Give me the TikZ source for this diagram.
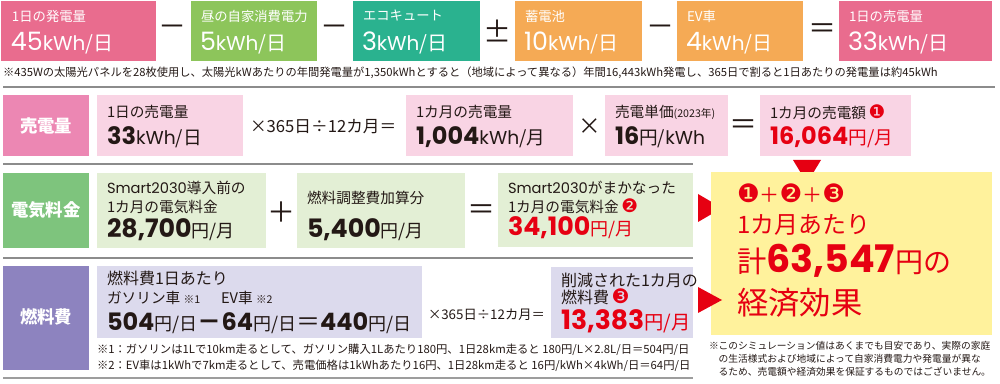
\documentclass[tikz,border=0pt]{standalone}
\usepackage{fontspec}
\setmainfont{Noto Sans CJK JP}
\newfontfamily\numfont{Poppins}
\newfontfamily\symfont{DejaVu Sans}
\definecolor{pinkA}{HTML}{E96C8E}
\definecolor{greenA}{HTML}{8DC55B}
\definecolor{tealA}{HTML}{2AB28F}
\definecolor{orangeA}{HTML}{F5AA55}
\definecolor{pinkL}{HTML}{EC87B3}
\definecolor{pinkP}{HTML}{F9D4E4}
\definecolor{greenL}{HTML}{7EC47D}
\definecolor{greenP}{HTML}{E3EFD5}
\definecolor{purpleL}{HTML}{8D83BF}
\definecolor{purpleP}{HTML}{DCDAED}
\definecolor{yellowP}{HTML}{FFF29C}
\definecolor{jpred}{HTML}{E60012}
\definecolor{ink}{HTML}{231815}
\definecolor{rulegray}{HTML}{8C8C8C}
\newcommand{\numbig}[2]{{\fontsize{#1pt}{#1pt}\selectfont\numfont\bfseries #2}}
\newcommand{\numreg}[2]{{\fontsize{#1pt}{#1pt}\selectfont\numfont #2}}
\newcommand{\unitsm}[2]{{\fontsize{#1pt}{#1pt}\selectfont #2}}
\newcommand{\kwh}{{\numfont kWh}}
\newcommand{\maru}[2]{{\fontsize{#1pt}{#1pt}\selectfont\symfont\textcolor{jpred}{#2}}}

\begin{document}
\begin{tikzpicture}[x=0.75pt, y=-0.75pt, inner sep=0pt, outer sep=0pt,
    wtitle/.style={anchor=west, text=white, font=\fontsize{10pt}{10pt}\selectfont},
    wval/.style={anchor=base west, text=white},
    title/.style={anchor=west, text=ink, align=left, font=\fontsize{11pt}{14.2pt}\selectfont},
    val/.style={anchor=base west, text=ink},
    rval/.style={anchor=base west, text=jpred},
    oper/.style={text=ink, font=\fontsize{21pt}{21pt}\selectfont},
    rowlabel/.style={text=white, font=\fontsize{13pt}{13pt}\selectfont\bfseries},
    calc/.style={anchor=west, text=ink, font=\fontsize{12.5pt}{12.5pt}\selectfont},
    note/.style={anchor=west, text=ink, align=left}]
\useasboundingbox (0,0) rectangle (1000,384);

% daily balance
\fill[pinkA] (1,1) rectangle (156,61);
\fill[greenA] (191,1) rectangle (317,61);
\fill[tealA] (353,1) rectangle (480,61);
\fill[orangeA] (515,1) rectangle (642,61);
\fill[orangeA] (677,1) rectangle (803,61);
\fill[pinkA] (839,1) rectangle (992,61);
\node[wtitle] (gen) at (12,16) {1日の発電量};
\node[wval] (genv) at (11,51) {\numreg{19}{45}\unitsm{15}{\kwh/日}};
\node[oper] (op1) at (172,31) {－};
\node[wtitle] (self) at (201,16) {昼の自家消費電力};
\node[wval] (selfv) at (200,51) {\numreg{19}{5}\unitsm{15}{\kwh/日}};
\node[oper] (op2) at (334,31) {－};
\node[wtitle] (eco) at (363,16) {エコキュート};
\node[wval] (ecov) at (362,51) {\numreg{19}{3}\unitsm{15}{\kwh/日}};
\node[oper] (op3) at (497,31) {±};
\node[wtitle] (bat) at (525,16) {蓄電池};
\node[wval] (batv) at (524,51) {\numreg{19}{10}\unitsm{15}{\kwh/日}};
\node[oper] (op4) at (660,31) {－};
\node[wtitle] (ev) at (687,16) {EV車};
\node[wval] (evv) at (686,51) {\numreg{19}{4}\unitsm{15}{\kwh/日}};
\node[oper] (op5) at (822,31) {＝};
\node[wtitle] (sell) at (849,16) {1日の売電量};
\node[wval] (sellv) at (848,51) {\numreg{19}{33}\unitsm{15}{\kwh/日}};
\node[note, font=\fontsize{8.45pt}{8.45pt}\selectfont] (note0) at (3,73)
  {※435Wの太陽光パネルを28枚使用し、太陽光kWあたりの年間発電量が1,350kWhとすると（地域によって異なる）年間16,443kWh発電し、365日で割ると1日あたりの発電量は約45kWh};

% rules
\draw[rulegray, line width=0.8pt] (3,87) -- (995,87);
\draw[rulegray, line width=0.8pt] (3,164) -- (693,164);
\draw[rulegray, line width=0.8pt] (3,258) -- (693,258);
\draw[rulegray!85, line width=2pt] (3,378) -- (693,378);

% sold power
\fill[pinkL] (3,95) rectangle (89,156);
\node[rowlabel] (lab1) at (46,126) {売電量};
\fill[pinkP] (97,95) rectangle (243,156);
\node[title] (day) at (107,112) {1日の売電量};
\node[val] (dayv) at (107,145) {\numbig{18}{33}\unitsm{14}{\kwh/日}};
\node[calc] (calc1) at (250,127) {×365日÷12カ月＝};
\fill[pinkP] (406,95) rectangle (573,156);
\node[title] (month) at (416,112) {1カ月の売電量};
\node[val] (monthv) at (416,145) {\numbig{18}{1,004}\unitsm{14}{\kwh/月}};
\node[oper, font=\fontsize{17pt}{17pt}\selectfont] (op6) at (590,127) {×};
\fill[pinkP] (605,95) rectangle (728,156);
\node[title] (price) at (615,112) {売電単価\unitsm{8}{(2023年)}};
\node[val] (pricev) at (615,145) {\numbig{18}{16}\unitsm{14}{円/\kwh}};
\node[oper] (op7) at (743,127) {＝};
\fill[pinkP] (760,95) rectangle (911,156);
\node[title] (sale) at (770,112) {1カ月の売電額\,\maru{14}{❶}};
\node[rval] (salev) at (770,145) {\numbig{18}{16,064}\unitsm{14}{円/月}};
\fill[jpred] (793,160) -- (821,160) -- (807,183) -- cycle;

% electricity bill
\fill[greenL] (3,173) rectangle (89,248);
\node[rowlabel] (lab2) at (46,210) {電気料金};
\fill[greenP] (97,173) rectangle (266,248);
\node[title] (before) at (107,197) {\numreg{11}{Smart2030}導入前の\\1カ月の電気料金};
\node[val] (beforev) at (107,238) {\numbig{19}{28,700}\unitsm{13.5}{円/月}};
\node[oper] (op8) at (281,212) {＋};
\fill[greenP] (297,173) rectangle (465,248);
\node[title] (fuel) at (307,198) {燃料調整費加算分};
\node[val] (fuelv) at (307,238) {\numbig{19}{5,400}\unitsm{13.5}{円/月}};
\node[oper] (op9) at (481,212) {＝};
\fill[greenP] (498,173) rectangle (693,247);
\node[title] (cover) at (508,197) {\numreg{11}{Smart2030}がまかなった\\1カ月の電気料金\,\maru{14}{❷}};
\node[rval] (coverv) at (508,236) {\numbig{19}{34,100}\unitsm{13.5}{円/月}};
\fill[jpred] (698,194) -- (722,208) -- (698,222) -- cycle;

% total
\fill[yellowP] (711,172) rectangle (992,335);
\node[anchor=west, text=jpred, font=\fontsize{15pt}{15pt}\selectfont] (sum)
  at (737,193) {\maru{19}{❶}＋\maru{19}{❷}＋\maru{19}{❸}};
\node[anchor=west, text=jpred, font=\fontsize{18pt}{18pt}\selectfont] (permonth)
  at (737,225) {1カ月あたり};
\node[anchor=base west, text=jpred] (total) at (737,273)
  {\unitsm{22}{計}\numbig{28.5}{63,547}\unitsm{21}{円の}};
\node[anchor=west, text=jpred, font=\fontsize{23.5pt}{23.5pt}\selectfont] (effect)
  at (737,303) {経済効果};

% fuel cost
\fill[purpleL] (3,266) rectangle (89,370);
\node[rowlabel] (lab3) at (46,317) {燃料費};
\fill[purpleP] (97,266) rectangle (422,338);
\node[title, font=\fontsize{12pt}{12pt}\selectfont] (perday) at (107,278) {燃料費1日あたり};
\node[title, font=\fontsize{11pt}{11pt}\selectfont] (gas) at (107,298) {ガソリン車 \unitsm{8}{※1}};
\node[title, font=\fontsize{11pt}{11pt}\selectfont] (evcar) at (221,298) {EV車 \unitsm{8}{※2}};
\node[val] (perdayv) at (107,331)
  {\numbig{18}{504}\unitsm{13.5}{円/日}\unitsm{18}{\bfseries －}\numbig{18}{64}\unitsm{13.5}{円/日}\unitsm{18}{＝}\numbig{18}{440}\unitsm{13.5}{円/日}};
\node[calc, font=\fontsize{10pt}{10pt}\selectfont] (calc2) at (428,315) {×365日÷12カ月＝};
\fill[purpleP] (551,267) rectangle (693,338);
\node[title, font=\fontsize{12pt}{13pt}\selectfont] (cut) at (561,289) {削減された1カ月の\\燃料費\,\maru{15}{❸}};
\node[rval] (cutv) at (561,330) {\numbig{20}{13,383}\unitsm{14.5}{円/月}};
\fill[jpred] (698,287) -- (722,300) -- (698,313) -- cycle;
\node[note, font=\fontsize{8.5pt}{12pt}\selectfont] (note12) at (97,358)
  {※1：ガソリンは1Lで10km走るとして、ガソリン購入1Lあたり180円、1日28km走ると 180円/L×2.8L/日＝504円/日\\
   ※2：EV車は1kWhで7km走るとして、売電価格は1kWhあたり16円、1日28km走ると 16円/kWh×4kWh/日＝64円/日};
\node[note, font=\fontsize{7.3pt}{9.8pt}\selectfont] (sim) at (709,359)
  {※このシミュレーション値はあくまでも目安であり、実際の家庭\\
   \hspace*{1em}の生活様式および地域によって自家消費電力や発電量が異な\\
   \hspace*{1em}るため、売電額や経済効果を保証するものではございません。};
\end{tikzpicture}
\end{document}
